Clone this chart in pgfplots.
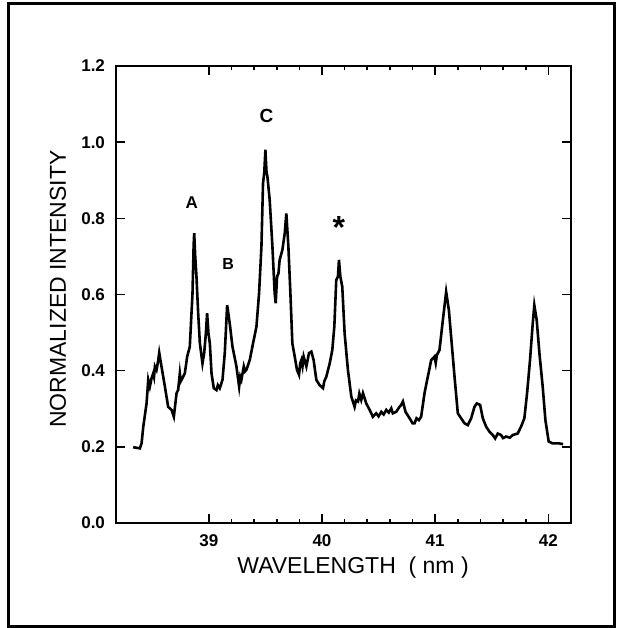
\documentclass[border=0pt]{standalone}
\usepackage{pgfplots}
\pgfplotsset{compat=1.18}
\usepackage{fontspec}
\setmainfont{Liberation Sans}

\pgfplotstableread{
x y
38.332 0.199
38.391 0.196
38.406 0.209
38.421 0.253
38.450 0.314
38.465 0.376
38.479 0.358
38.494 0.380
38.509 0.393
38.516 0.384
38.524 0.411
38.538 0.402
38.552 0.425
38.562 0.447
38.582 0.411
38.612 0.358
38.641 0.305
38.671 0.297
38.691 0.279
38.715 0.341
38.729 0.349
38.744 0.393
38.752 0.372
38.759 0.376
38.788 0.393
38.809 0.437
38.832 0.463
38.856 0.603
38.866 0.730
38.871 0.761
38.880 0.700
38.891 0.647
38.906 0.551
38.921 0.472
38.944 0.419
38.959 0.446
38.974 0.498
38.985 0.551
38.997 0.498
39.009 0.472
39.024 0.393
39.044 0.354
39.068 0.349
39.080 0.362
39.097 0.354
39.121 0.376
39.141 0.446
39.162 0.572
39.185 0.524
39.209 0.463
39.244 0.411
39.268 0.358
39.278 0.384
39.288 0.376
39.309 0.411
39.320 0.398
39.332 0.402
39.362 0.428
39.391 0.472
39.421 0.516
39.444 0.603
39.465 0.726
39.479 0.892
39.490 0.920
39.500 0.980
39.509 0.925
39.518 0.909
39.538 0.848
39.562 0.726
39.582 0.603
39.591 0.577
39.603 0.647
39.615 0.655
39.626 0.691
39.650 0.717
39.671 0.761
39.685 0.813
39.703 0.726
39.721 0.603
39.738 0.472
39.759 0.437
39.779 0.402
39.797 0.389
39.808 0.420
39.818 0.428
39.828 0.412
39.838 0.437
39.862 0.411
39.885 0.446
39.906 0.450
39.926 0.428
39.950 0.376
39.979 0.362
40.009 0.354
40.020 0.372
40.038 0.384
40.068 0.419
40.091 0.454
40.109 0.516
40.126 0.638
40.141 0.647
40.150 0.691
40.162 0.647
40.179 0.621
40.200 0.498
40.229 0.402
40.259 0.332
40.288 0.305
40.300 0.322
40.318 0.319
40.330 0.340
40.347 0.323
40.362 0.341
40.391 0.314
40.421 0.297
40.450 0.279
40.479 0.288
40.500 0.280
40.524 0.292
40.545 0.285
40.568 0.297
40.590 0.290
40.612 0.301
40.626 0.288
40.656 0.292
40.685 0.305
40.700 0.310
40.715 0.319
40.738 0.292
40.774 0.275
40.800 0.262
40.818 0.262
40.835 0.275
40.856 0.270
40.876 0.279
40.906 0.341
40.935 0.384
40.965 0.428
40.994 0.437
41.005 0.420
41.015 0.441
41.038 0.454
41.068 0.533
41.097 0.607
41.121 0.559
41.141 0.489
41.171 0.384
41.200 0.288
41.229 0.275
41.259 0.262
41.288 0.257
41.318 0.275
41.347 0.305
41.368 0.314
41.397 0.310
41.421 0.275
41.450 0.253
41.479 0.240
41.509 0.231
41.530 0.222
41.553 0.235
41.582 0.231
41.600 0.223
41.626 0.227
41.660 0.224
41.685 0.231
41.729 0.235
41.759 0.253
41.788 0.275
41.812 0.341
41.838 0.428
41.862 0.524
41.876 0.572
41.897 0.533
41.921 0.446
41.950 0.358
41.974 0.270
42.003 0.214
42.038 0.209
42.097 0.209
42.130 0.207
}\spectrum

\begin{document}
\begin{tikzpicture}
\useasboundingbox (-58pt,-52.5pt) rectangle (251pt,261.5pt);
\draw[line width=1.5pt] (-53.5pt,-51.5pt) rectangle (249.5pt,259.5pt);
\begin{axis}[
  at={(0,0)}, anchor=south west,
  scale only axis, width=227.5pt, height=228.5pt,
  xmin=38.18, xmax=42.2, ymin=0, ymax=1.2,
  xtick={39,40,41,42}, ytick={0,0.2,...,1.2},
  minor x tick num=4,
  tick align=inside,
  major tick length=4.5pt, minor tick length=2pt,
  axis line style={line width=1pt},
  every tick/.style={line width=0.8pt, black},
  tick label style={font=\fontsize{8.5}{10}\selectfont\bfseries},
  /pgf/number format/assume math mode=true,
  xticklabel style={yshift=-2.5pt},
  yticklabel style={xshift=-2pt, /pgf/number format/fixed, /pgf/number format/zerofill, /pgf/number format/precision=1},
  xlabel={WAVELENGTH\ \ ( nm )},
  ylabel={NORMALIZED INTENSITY},
  label style={font=\fontsize{11.5}{13}\selectfont},
  xlabel style={at={(axis description cs:0.521,-0.0985)}, anchor=center},
  ylabel style={at={(axis description cs:-0.1275,0.512)}, anchor=center},
  clip=false,
]
\addplot[black, line width=1.3pt] table[x=x, y=y] {\spectrum};
\node[font=\fontsize{8.5}{9}\selectfont\bfseries] at (axis cs:38.85,0.84) {A};
\node[font=\fontsize{8}{9}\selectfont\bfseries] at (axis cs:39.17,0.68) {B};
\node[font=\fontsize{9.5}{10}\selectfont\bfseries] at (axis cs:39.51,1.07) {C};
\node[font=\fontsize{16}{16}\selectfont\bfseries] at (axis cs:40.15,0.775) {*};
\end{axis}
\end{tikzpicture}
\end{document}
